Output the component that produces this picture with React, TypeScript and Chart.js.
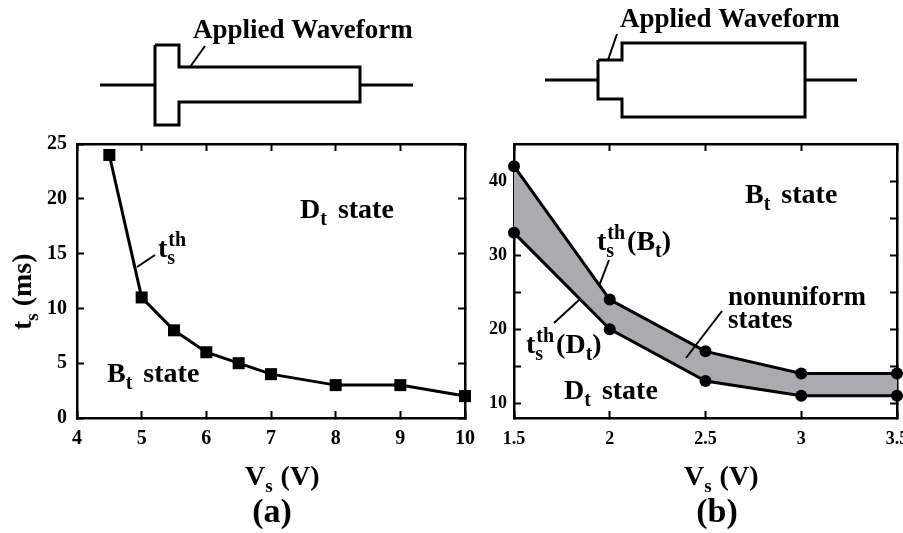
import React, { useEffect, useRef } from 'react';
import { Chart, registerables } from 'chart.js';

Chart.register(...registerables);

// ---------- data ----------
const vsA = [4.5, 5, 5.5, 6, 6.5, 7, 8, 9, 10];
const tsA = [24, 11, 8, 6, 5, 4, 3, 3, 2];
const xTicksA = [4, 5, 6, 7, 8, 9, 10];
const yTicksA = [0, 5, 10, 15, 20, 25];

const vsB = [1.5, 2, 2.5, 3, 3.5];
const tsBt = [42, 24, 17, 14, 14];
const tsDt = [33, 20, 13, 11, 11];
const xTicksB = [1.5, 2, 2.5, 3, 3.5];
const yTicksB = [10, 15, 20, 25, 30, 35, 40];
const yLabelsB = [10, 20, 30, 40];

const SERIF = '"Liberation Serif", "Times New Roman", serif';
const FILL_GRAY = '#a9abae';

function txt(ctx: CanvasRenderingContext2D, s: string, x: number, y: number, size: number) {
  ctx.font = `bold ${size}px ${SERIF}`;
  ctx.fillText(s, x, y);
  return x + ctx.measureText(s).width;
}

function withSub(ctx: CanvasRenderingContext2D, main: string, sub: string, x: number, y: number, size: number, subSize: number, dy: number) {
  const x1 = txt(ctx, main, x, y, size);
  return txt(ctx, sub, x1, y + dy, subSize);
}

function tsTh(ctx: CanvasRenderingContext2D, x: number, y: number) {
  const x1 = txt(ctx, 't', x, y, 28);
  const a = txt(ctx, 'th', x1 + 1, y - 11, 20);
  const b = txt(ctx, 's', x1, y + 7, 20);
  return Math.max(a, b);
}

function line(ctx: CanvasRenderingContext2D, pts: number[][], w: number) {
  ctx.beginPath();
  ctx.moveTo(pts[0][0], pts[0][1]);
  for (let i = 1; i < pts.length; i++) ctx.lineTo(pts[i][0], pts[i][1]);
  ctx.lineWidth = w;
  ctx.strokeStyle = '#000';
  ctx.lineJoin = 'miter';
  ctx.stroke();
}

function axisCfg(kind: 'x' | 'y', pos: string, min: number, max: number, ticks: number[], size: number, showLabels: boolean, padding: number, fontSize: number, labelFilter?: (v: number) => boolean) {
  return {
    type: 'linear',
    position: pos,
    min,
    max,
    afterBuildTicks: (s: any) => {
      s.ticks = ticks.map((v) => ({ value: v }));
    },
    afterFit: (s: any) => {
      if (kind === 'x') s.height = size;
      else s.width = size;
      s.paddingLeft = 0;
      s.paddingRight = 0;
      s.paddingTop = 0;
      s.paddingBottom = 0;
    },
    ticks: {
      display: showLabels,
      autoSkip: false,
      maxRotation: 0,
      minRotation: 0,
      padding,
      color: '#000',
      font: { family: SERIF, size: fontSize, weight: 'bold' },
      callback: (v: any) => (labelFilter && !labelFilter(Number(v)) ? '' : String(v)),
    },
    grid: {
      drawOnChartArea: false,
      drawTicks: true,
      tickLength: -7,
      color: '#000',
      tickColor: '#000',
      tickWidth: 2,
    },
    border: { display: true, color: '#000', width: 2.5 },
  };
}

const annotA = {
  id: 'annotA',
  afterDraw(chart: any) {
    const ctx: CanvasRenderingContext2D = chart.ctx;
    ctx.save();
    ctx.fillStyle = '#000';
    ctx.textBaseline = 'alphabetic';
    ctx.textAlign = 'left';
    // waveform
    line(ctx, [[100, 85], [155, 85]], 3);
    line(ctx, [[360, 85], [413, 85]], 3);
    line(ctx, [[155, 45], [179, 45], [179, 67], [360, 67], [360, 102], [179, 102], [179, 125], [155, 125], [155, 45]], 3);
    line(ctx, [[190, 67], [205, 46]], 2);
    txt(ctx, 'Applied Waveform', 193, 38, 27);
    // labels inside plot
    let x = withSub(ctx, 'D', 't', 300, 218, 28, 20, 7);
    txt(ctx, 'state', x + 11, 218, 28);
    x = withSub(ctx, 'B', 't', 107, 382, 28, 20, 7);
    txt(ctx, 'state', x + 11, 382, 28);
    tsTh(ctx, 158, 257);
    line(ctx, [[137, 267], [155, 255]], 2);
    // axis titles
    x = withSub(ctx, 'V', 's', 245, 485, 28, 19, 7);
    txt(ctx, '(V)', x + 8, 485, 28);
    ctx.textAlign = 'center';
    txt(ctx, '(a)', 272, 522, 34);
    ctx.textAlign = 'left';
    ctx.save();
    ctx.translate(31, 330);
    ctx.rotate(-Math.PI / 2);
    x = withSub(ctx, 't', 's', 0, 0, 28, 19, 7);
    txt(ctx, '(ms)', x + 7, 0, 28);
    ctx.restore();
    ctx.restore();
  },
};

const annotB = {
  id: 'annotB',
  afterDraw(chart: any) {
    const ctx: CanvasRenderingContext2D = chart.ctx;
    ctx.save();
    ctx.fillStyle = '#000';
    ctx.textBaseline = 'alphabetic';
    ctx.textAlign = 'left';
    // waveform
    line(ctx, [[545, 80], [598, 80]], 3);
    line(ctx, [[805, 80], [857, 80]], 3);
    line(ctx, [[598, 60], [622, 60], [622, 43], [805, 43], [805, 117], [622, 117], [622, 99], [598, 99], [598, 60]], 3);
    line(ctx, [[608, 60], [617, 34]], 2);
    txt(ctx, 'Applied Waveform', 620, 27, 27);
    // labels
    let x = withSub(ctx, 'B', 't', 745, 203, 28, 20, 7);
    txt(ctx, 'state', x + 11, 203, 28);
    x = withSub(ctx, 'D', 't', 564, 399, 28, 20, 7);
    txt(ctx, 'state', x + 11, 399, 28);
    x = tsTh(ctx, 597, 250);
    x = txt(ctx, '(', x + 2, 250, 28);
    x = withSub(ctx, 'B', 't', x, 250, 28, 20, 7);
    txt(ctx, ')', x, 250, 28);
    line(ctx, [[609, 260], [599, 286]], 2);
    x = tsTh(ctx, 526, 353);
    x = txt(ctx, '(', x + 2, 353, 28);
    x = withSub(ctx, 'D', 't', x, 353, 28, 20, 7);
    txt(ctx, ')', x, 353, 28);
    line(ctx, [[554, 323], [579, 300]], 2);
    txt(ctx, 'nonuniform', 728, 305, 27);
    txt(ctx, 'states', 728, 328, 27);
    line(ctx, [[722, 311], [686, 358]], 2);
    // axis titles
    x = withSub(ctx, 'V', 's', 684, 485, 28, 19, 7);
    txt(ctx, '(V)', x + 8, 485, 28);
    ctx.textAlign = 'center';
    txt(ctx, '(b)', 717, 522, 34);
    ctx.restore();
  },
};

export default function App() {
  const refA = useRef<HTMLCanvasElement>(null);
  const refB = useRef<HTMLCanvasElement>(null);

  useEffect(() => {
    const chartA = new Chart(refA.current as HTMLCanvasElement, {
      type: 'line',
      data: {
        datasets: [
          {
            data: vsA.map((x, i) => ({ x, y: tsA[i] })),
            borderColor: '#000',
            borderWidth: 3,
            pointStyle: 'rect',
            pointRadius: 8.5,
            pointBackgroundColor: '#000',
            pointBorderWidth: 0,
            tension: 0,
            fill: false,
            clip: false,
            xAxisID: 'x',
            yAxisID: 'y',
          } as any,
        ],
      },
      options: {
        responsive: false,
        maintainAspectRatio: false,
        animation: false,
        devicePixelRatio: 1,
        layout: { padding: { left: 0, top: 144, right: 903 - 465, bottom: 0 } },
        plugins: { legend: { display: false }, tooltip: { enabled: false }, title: { display: false } },
        scales: {
          x: axisCfg('x', 'bottom', 4, 10, xTicksA, 533 - 418, true, 16, 20) as any,
          x2: axisCfg('x', 'top', 4, 10, xTicksA, 0, false, 0, 20) as any,
          y: axisCfg('y', 'left', 0, 25, yTicksA, 77, true, 17, 20) as any,
          y2: axisCfg('y', 'right', 0, 25, yTicksA, 0, false, 0, 20) as any,
        },
      },
      plugins: [annotA],
    });

    const chartB = new Chart(refB.current as HTMLCanvasElement, {
      type: 'line',
      data: {
        datasets: [
          {
            data: vsB.map((x, i) => ({ x, y: tsBt[i] })),
            borderColor: '#000',
            borderWidth: 3,
            pointStyle: 'circle',
            pointRadius: 6,
            pointBackgroundColor: '#000',
            pointBorderWidth: 0,
            tension: 0,
            fill: false,
            clip: false,
          } as any,
          {
            data: vsB.map((x, i) => ({ x, y: tsDt[i] })),
            borderColor: '#000',
            borderWidth: 3,
            pointStyle: 'circle',
            pointRadius: 6,
            pointBackgroundColor: '#000',
            pointBorderWidth: 0,
            tension: 0,
            fill: '-1',
            backgroundColor: FILL_GRAY,
            clip: false,
          } as any,
        ],
      },
      options: {
        responsive: false,
        maintainAspectRatio: false,
        animation: false,
        devicePixelRatio: 1,
        layout: { padding: { left: 0, top: 144, right: 903 - 900, bottom: 0 } },
        plugins: { legend: { display: false }, tooltip: { enabled: false }, title: { display: false }, filler: { propagate: false } } as any,
        scales: {
          x: axisCfg('x', 'bottom', 1.5, 3.5, xTicksB, 533 - 418, true, 18, 18) as any,
          x2: axisCfg('x', 'top', 1.5, 3.5, xTicksB, 0, false, 0, 18) as any,
          y: axisCfg('y', 'left', 8, 45, yTicksB, 514, true, 14, 18, (v) => yLabelsB.includes(v)) as any,
          y2: axisCfg('y', 'right', 8, 45, yTicksB, 0, false, 0, 18) as any,
        },
      },
      plugins: [annotB],
    });

    return () => {
      chartA.destroy();
      chartB.destroy();
    };
  }, []);

  return (
    <div style={{ position: 'fixed', left: 0, top: 0, width: 903, height: 533, background: '#fff' }}>
      <canvas ref={refA} width={903} height={533} style={{ position: 'absolute', left: 0, top: 0 }} />
      <canvas ref={refB} width={903} height={533} style={{ position: 'absolute', left: 0, top: 0 }} />
    </div>
  );
}
